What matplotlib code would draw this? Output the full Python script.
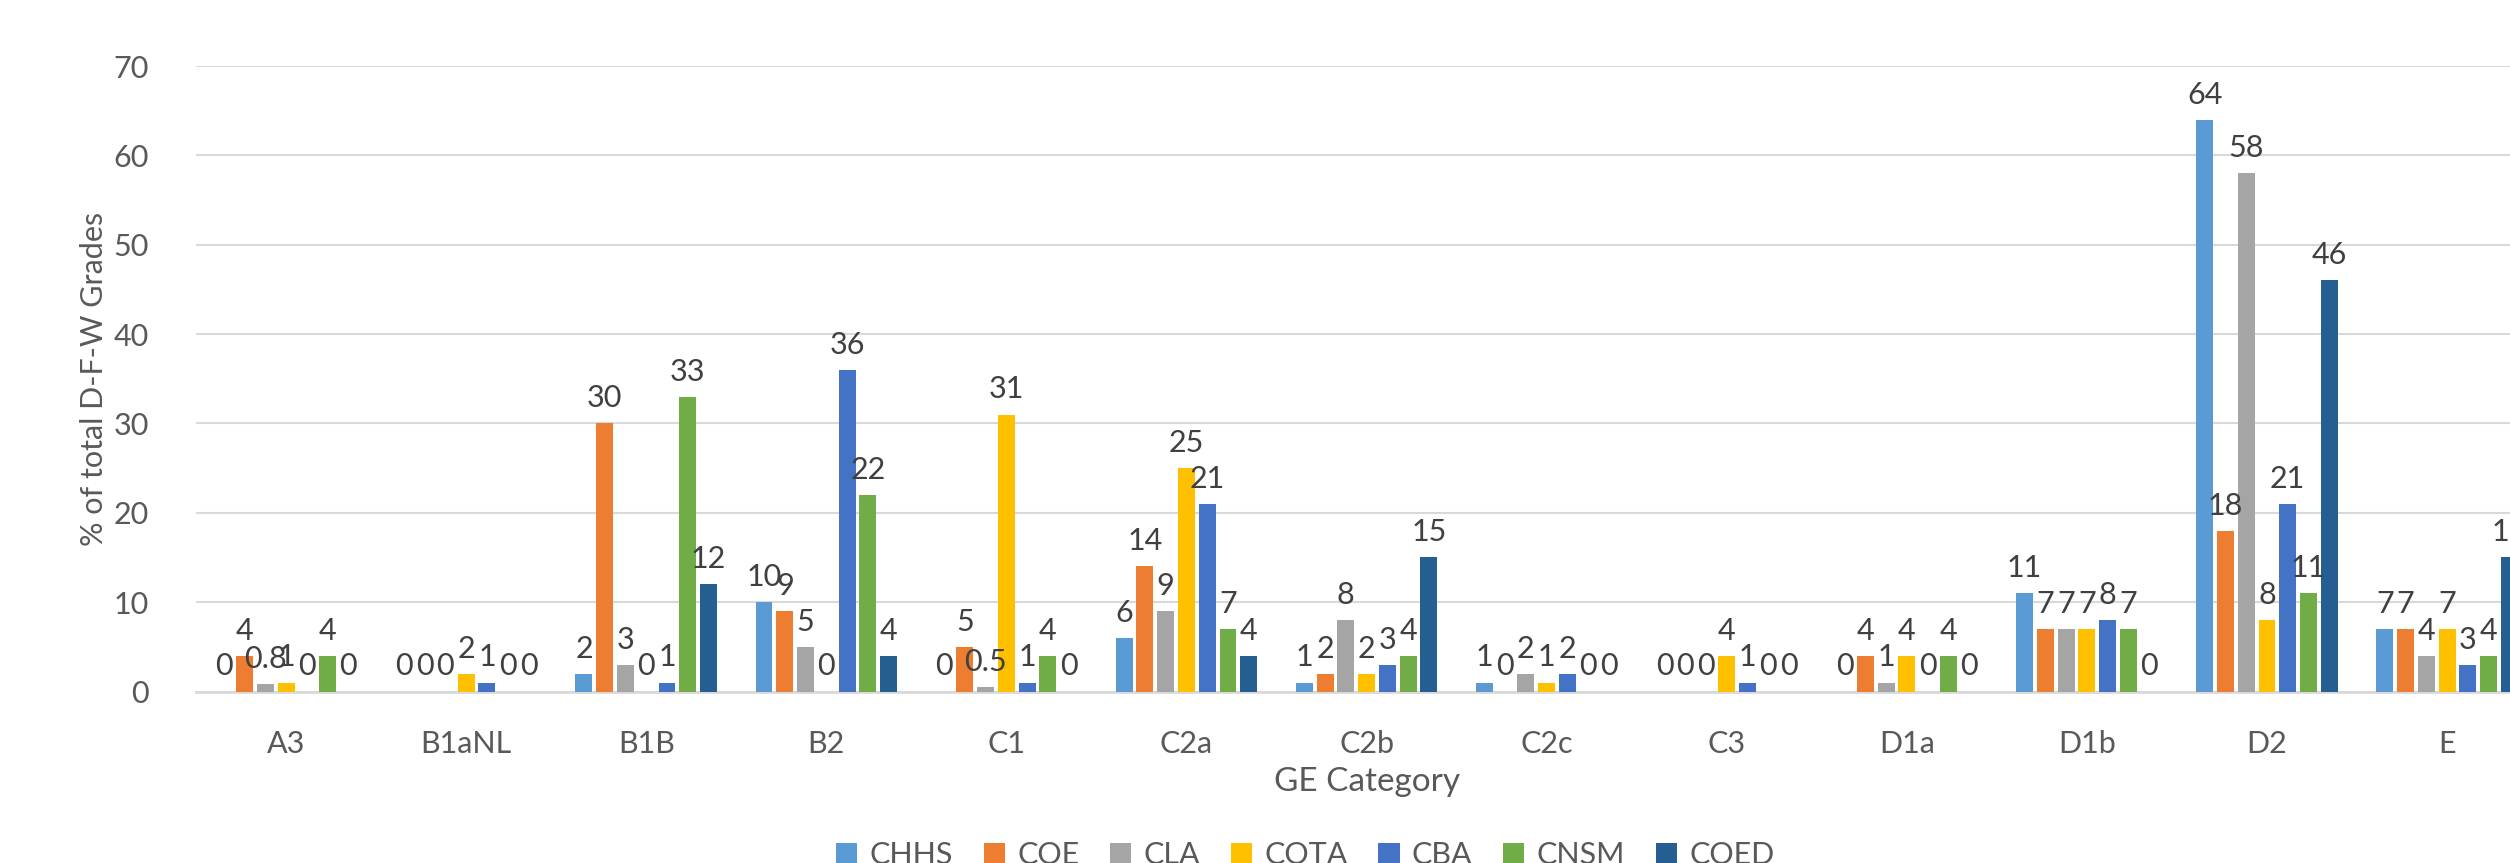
import matplotlib.pyplot as plt
import numpy as np

plt.rcParams['font.family'] = ['Lato', 'DejaVu Sans']

categories = ['A3', 'B1aNL', 'B1B', 'B2', 'C1', 'C2a', 'C2b', 'C2c', 'C3', 'D1a', 'D1b', 'D2', 'E']
colleges = ['CHHS', 'COE', 'CLA', 'COTA', 'CBA', 'CNSM', 'COED']

chhs = [0, 0, 2, 10, 0, 6, 1, 1, 0, 0, 11, 64, 7]
coe = [4, 0, 30, 9, 5, 14, 2, 0, 0, 4, 7, 18, 7]
cla = [0.8, 0, 3, 5, 0.5, 9, 8, 2, 0, 1, 7, 58, 4]
cota = [1, 2, 0, 0, 31, 25, 2, 1, 4, 4, 7, 8, 7]
cba = [0, 1, 1, 36, 1, 21, 3, 2, 1, 0, 8, 21, 3]
cnsm = [4, 0, 33, 22, 4, 7, 4, 0, 0, 4, 7, 11, 4]
coed = [0, 0, 12, 4, 0, 4, 15, 0, 0, 0, 0, 46, 15]

series = [chhs, coe, cla, cota, cba, cnsm, coed]
colors = ['#5B9BD5', '#ED7D31', '#A5A5A5', '#FFC000', '#4472C4', '#70AD47', '#255E91']

fig = plt.figure(figsize=(25.1, 8.63), dpi=100)
# axes run a little past the right edge, so the last group is clipped
ax = fig.add_axes([0.0781, 0.1987, 1.0108 - 0.0781, 0.9235 - 0.1987])

x = np.arange(len(categories))
slot = 0.1153
width = 0.094
for i, (vals, name, c) in enumerate(zip(series, colleges, colors)):
    pos = x + (i - 3) * slot
    ax.bar(pos, vals, width, color=c, label=name, zorder=3)
    for xp, v in zip(pos, vals):
        ax.annotate(f'{v:g}', (xp, v), xytext=(0, 8), textcoords='offset points',
                    ha='center', va='bottom', fontsize=22, color='#404040', zorder=4)

ax.set_xlim(-0.5, len(categories) - 0.5)
ax.set_ylim(0, 70)
ax.set_yticks(range(0, 71, 10))
ax.set_xticks(x)
ax.set_xticklabels(categories)
ax.tick_params(axis='both', length=0, labelsize=22, labelcolor='#595959')
ax.tick_params(axis='y', pad=34)
ax.tick_params(axis='x', pad=28)
ax.grid(axis='y', color='#D9D9D9', linewidth=1.5, zorder=0)
for s in ['top', 'right', 'left']:
    ax.spines[s].set_visible(False)
ax.spines['bottom'].set_color('#D9D9D9')
ax.spines['bottom'].set_linewidth(2)

ax.set_ylabel('% of total D-F-W Grades', fontsize=22, color='#595959', labelpad=4)
ax.set_xlabel('GE Category', fontsize=24, color='#595959', labelpad=6)

fig.legend(loc='center', bbox_to_anchor=(0.52, 0.009), ncol=7, frameon=False,
           fontsize=22, labelcolor='#595959', handlelength=0.7, handleheight=0.7,
           handletextpad=0.4, columnspacing=1.0)

fig.savefig('out.png', dpi=100)
